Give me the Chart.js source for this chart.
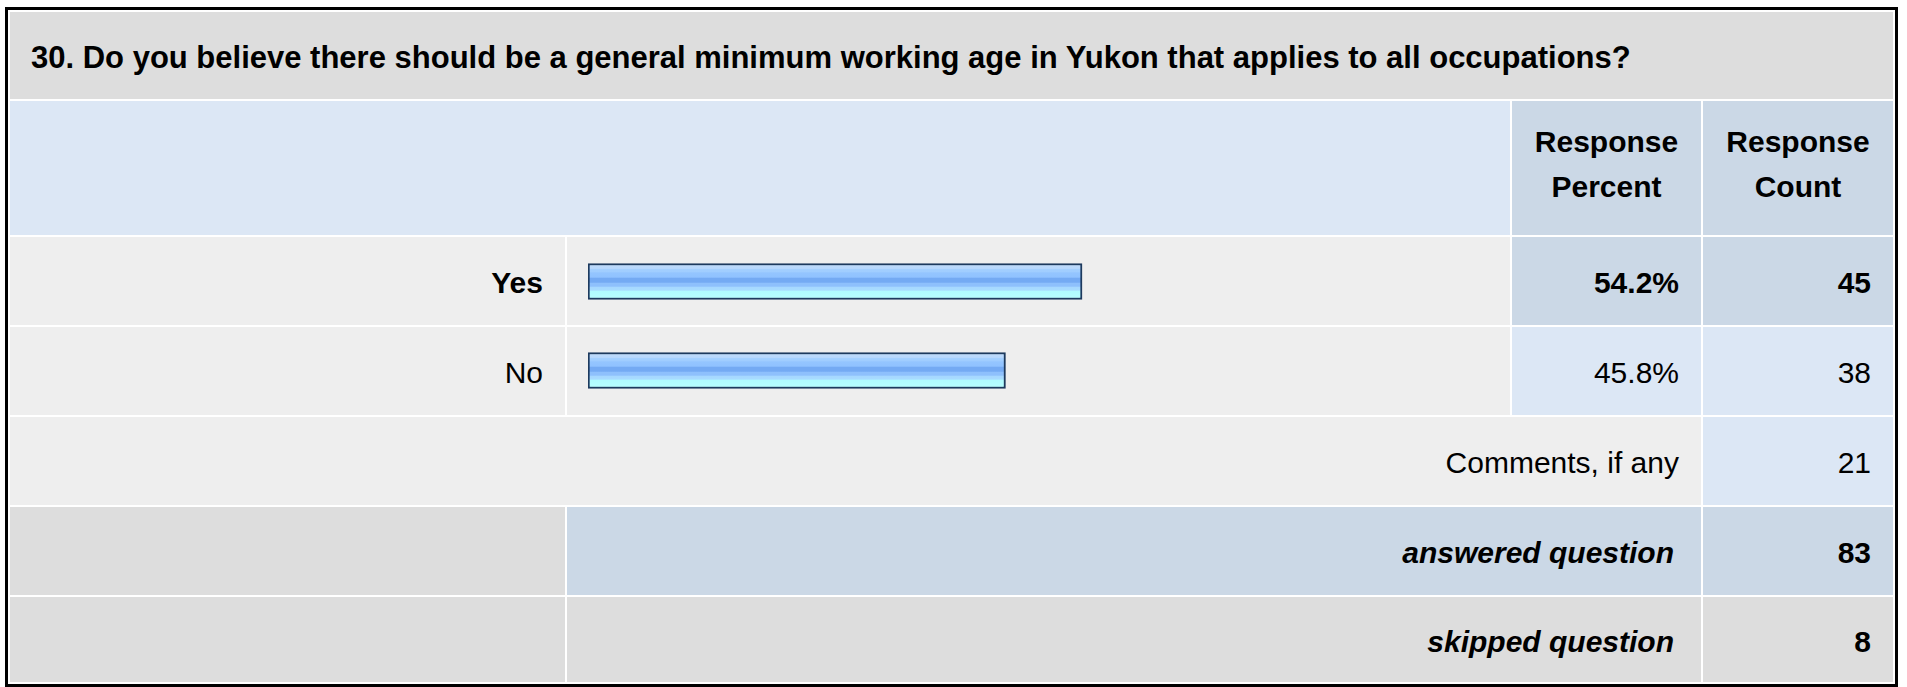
<!DOCTYPE html>
<html>
<head>
<meta charset="utf-8">
<title>Question 30</title>
<script src="https://cdn.jsdelivr.net/npm/chart.js@4.4.0/dist/chart.umd.min.js"></script>
<style>
body{margin:0;background:#fff;font-family:"Liberation Sans",Arial,sans-serif;color:#000;}
#cadre{position:absolute;left:5px;top:7px;border:3px solid #000;width:1887px;height:674px;overflow:hidden;}
table{border-collapse:separate;border-spacing:2px;table-layout:fixed;width:1887px;background:#fff;}
td{font-size:30px;padding:4px 22px 0 22px;text-align:right;vertical-align:middle;white-space:nowrap;overflow:hidden;}
td.titre{text-align:left;font-weight:bold;font-size:31px;padding-left:21px;background:#ddd;}
td.entete{font-weight:bold;text-align:center;line-height:45px;padding:0 4px 8px 4px;background:#cbd8e6;}
.gris{background:#eee;}
.grisfonce{background:#ddd;}
.bleu{background:#dce7f5;}
.bleufonce{background:#cbd8e6;}
.gras{font-weight:bold;}
.italique{font-weight:bold;font-style:italic;padding-right:27px;}
#graphe{position:absolute;left:567px;top:237px;}
</style>
</head>
<body>
<div id="cadre">
<table>
<colgroup><col style="width:555px"><col style="width:943px"><col style="width:189px"><col style="width:190px"></colgroup>
<tbody id="corps"></tbody>
</table>
</div>
<canvas id="graphe" width="943" height="178"></canvas>
<script>
var question="30. Do you believe there should be a general minimum working age in Yukon that applies to all occupations?";
var choix=["Yes","No"];
var pourcents=[54.2,45.8];
var nombres=[45,38];
var commentaires=21;
var repondu=83;
var saute=8;

// tableau de résultats
var lignes=[];
lignes.push('<tr style="height:87px"><td class="titre" colspan="4">'+question+'</td></tr>');
lignes.push('<tr style="height:134px"><td class="bleu" colspan="2"></td>'+
  '<td class="entete">Response<br>Percent</td><td class="entete">Response<br>Count</td></tr>');
var maxi=Math.max.apply(null,nombres);
for (var i=0;i<choix.length;i++) {
  var fort=(nombres[i]==maxi);
  var g=fort?' gras':'';
  var fond=fort?'bleufonce':'bleu';
  lignes.push('<tr style="height:88px"><td class="gris'+g+'">'+choix[i]+'</td><td class="gris"></td>'+
    '<td class="'+fond+g+'">'+pourcents[i].toFixed(1)+'%</td><td class="'+fond+g+'">'+nombres[i]+'</td></tr>');
}
lignes.push('<tr style="height:88px"><td class="gris" colspan="3">Comments, if any</td><td class="bleu">'+commentaires+'</td></tr>');
lignes.push('<tr style="height:88px"><td class="grisfonce"></td><td class="bleufonce italique" colspan="2">answered question</td>'+
  '<td class="bleufonce gras">'+repondu+'</td></tr>');
lignes.push('<tr style="height:85px"><td class="grisfonce"></td><td class="grisfonce italique" colspan="2">skipped question</td>'+
  '<td class="grisfonce gras">'+saute+'</td></tr>');
document.getElementById("corps").innerHTML=lignes.join("");

// dégradé des barres, calé sur chaque barre
function degrade(c) {
  var chart=c.chart;
  if (!chart.chartArea || c.dataIndex===undefined) return "#92c3ff";
  var yc=chart.scales.y.getPixelForValue(c.dataIndex);
  var g=chart.ctx.createLinearGradient(0,yc-18,0,yc+18);
  g.addColorStop(0,"#c4ddf9");
  g.addColorStop(0.14,"#b6d7fd");
  g.addColorStop(0.17,"#a2cfff");
  g.addColorStop(0.23,"#a0cdff");
  g.addColorStop(0.26,"#94c5ff");
  g.addColorStop(0.38,"#90c2ff");
  g.addColorStop(0.41,"#74aaf3");
  g.addColorStop(0.52,"#74aaf3");
  g.addColorStop(0.55,"#8ec0fc");
  g.addColorStop(0.63,"#8ec0fc");
  g.addColorStop(0.66,"#a6d8ff");
  g.addColorStop(0.74,"#a8dcff");
  g.addColorStop(0.77,"#b0fbff");
  g.addColorStop(1,"#b8ffff");
  return g;
}

var config={
  type:"bar",
  data:{labels:choix,datasets:[{
    data:pourcents,
    backgroundColor:degrade,
    borderColor:"#1d3a5e",
    borderWidth:2,
    borderSkipped:false,
    barThickness:36
  }]},
  options:{
    indexAxis:"y",
    responsive:false,
    animation:false,
    layout:{padding:{left:21,right:10.5,top:0,bottom:0}},
    scales:{
      x:{min:0,max:100,display:false},
      y:{display:false}
    },
    plugins:{legend:{display:false},tooltip:{enabled:false}}
  }
};

window.onload=function() {
  var ctx=document.getElementById("graphe").getContext("2d");
  window.graph1=new Chart(ctx,config);
};
</script>
</body>
</html>
